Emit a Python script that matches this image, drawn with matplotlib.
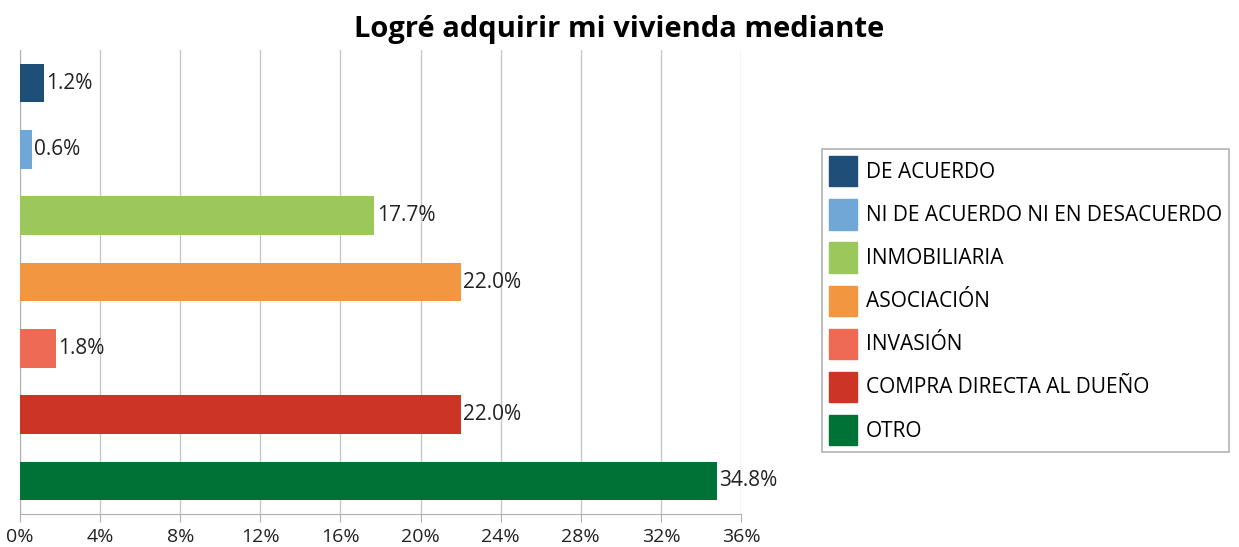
import matplotlib.pyplot as plt
from matplotlib.patches import Patch

plt.rcParams['font.family'] = ['Open Sans', 'DejaVu Sans']

categories = ['DE ACUERDO', 'NI DE ACUERDO NI EN DESACUERDO', 'INMOBILIARIA',
              'ASOCIACIÓN', 'INVASIÓN', 'COMPRA DIRECTA AL DUEÑO', 'OTRO']
values = [1.2, 0.6, 17.7, 22.0, 1.8, 22.0, 34.8]
colors = ['#1f4e79', '#6fa8d6', '#9bc85a', '#f39641', '#ef6a55', '#cc3526', '#007235']
x_ticks = [0, 4, 8, 12, 16, 20, 24, 28, 32, 36]

fig = plt.figure(figsize=(12.39, 5.47), dpi=100)
ax = fig.add_axes([0.0161, 0.0603, 0.5820, 0.8483])

pos = list(range(len(categories)))
ax.barh(pos, values, height=0.58, color=colors, zorder=3)
for p, v in zip(pos, values):
    ax.text(v + 0.12, p, f'{v:.1f}%', va='center', ha='left', fontsize=15, color='#222222', zorder=4)

ax.set_ylim(len(categories) - 0.5, -0.5)
ax.set_xlim(0, 36)
ax.set_xticks(x_ticks)
ax.set_xticklabels([f'{t}%' for t in x_ticks], fontsize=14, color='#222222')
ax.set_yticks([])
ax.grid(axis='x', color='#c8c8c8', linewidth=1, zorder=0)
for s in ['top', 'right']:
    ax.spines[s].set_visible(False)
ax.spines['left'].set_color('#b0b0b0')
ax.spines['bottom'].set_color('#b0b0b0')
ax.tick_params(axis='x', length=6, color='#b0b0b0', pad=4)

fig.suptitle('Logré adquirir mi vivienda mediante', fontsize=21, fontweight='bold', x=0.5, y=0.972)

handles = [Patch(facecolor=c, edgecolor=c) for c in colors]
leg = fig.legend(handles, categories, loc='upper left', bbox_to_anchor=(0.6634, 0.7276),
                 fontsize=15, frameon=True, fancybox=False, edgecolor='#a0a0a0',
                 handlelength=1.35, handleheight=1.85, handletextpad=0.4,
                 labelspacing=0.62, borderpad=0.35, borderaxespad=0)
leg.get_frame().set_linewidth(1.2)

fig.savefig('out.png', dpi=100)
